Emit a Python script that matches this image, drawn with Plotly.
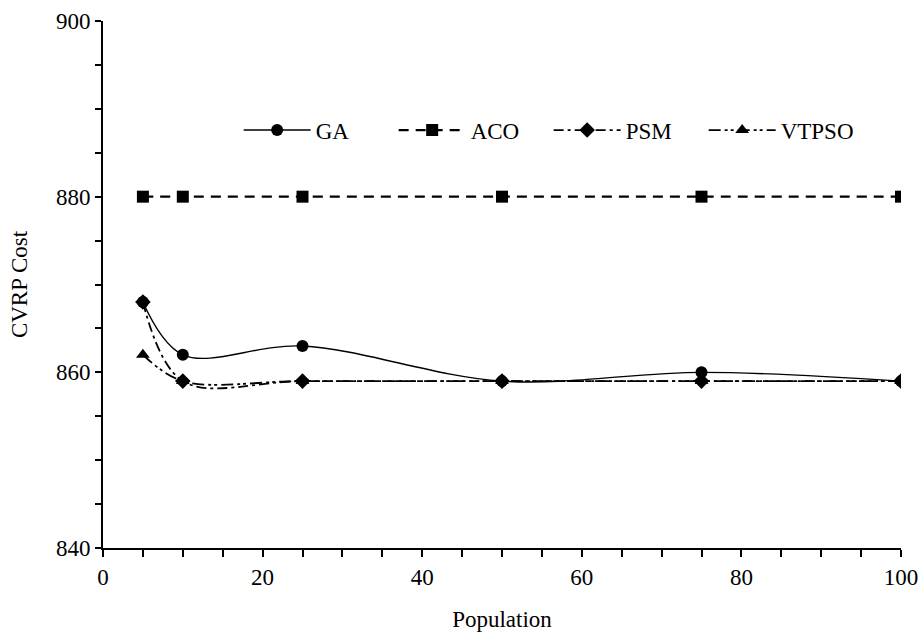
import plotly.graph_objects as go

population = [5, 10, 25, 50, 75, 100]
ga = [868, 862, 863, 859, 860, 859]
aco = [880, 880, 880, 880, 880, 880]
psm = [868, 859, 859, 859, 859, 859]
vtpso = [862, 859, 859, 859, 859, 859]

FONT = "Liberation Serif, Times New Roman, serif"
F = dict(family=FONT, size=23, color="black")

fig = go.Figure()
series = [
    ("GA", ga, "solid", "circle", 1.4),
    ("ACO", aco, "10px,7px", "square", 2.2),
    ("PSM", psm, "10px,4px,3px,4px", "diamond", 1.8),
    ("VTPSO", vtpso, "12px,4px,3px,3px,3px,4px", "triangle-up", 1.8),
]
for name, ys, dash, sym, w in series:
    fig.add_trace(go.Scatter(
        x=population, y=ys, name=name, mode="lines+markers",
        line=dict(color="black", width=w, dash=dash, shape="spline", smoothing=1.0),
        marker=dict(symbol=sym, size=12, color="black"),
    ))

fig.update_layout(
    template="none",
    width=919, height=639,
    margin=dict(l=103, r=18, t=21, b=91),
    paper_bgcolor="white", plot_bgcolor="white",
    font=F,
    showlegend=True,
    legend=dict(orientation="h", x=0.17, y=0.793, xanchor="left", yanchor="middle",
                entrywidth=73, itemwidth=67, font=F,
                bgcolor="rgba(0,0,0,0)", borderwidth=0),
    xaxis=dict(range=[0, 100], tickvals=[0, 20, 40, 60, 80, 100], showgrid=False, zeroline=False,
               showline=True, linecolor="black", linewidth=2, ticks="outside", ticklen=7,
               tickwidth=1.5, tickcolor="black", tickfont=F,
               minor=dict(tickvals=list(range(5, 100, 5)), ticks="outside", ticklen=7, tickwidth=1.5,
                          tickcolor="black", showgrid=False),
               title=dict(text="Population", standoff=22, font=F)),
    yaxis=dict(range=[840, 900], tickvals=[840, 860, 880, 900], showgrid=False, zeroline=False,
               showline=True, linecolor="black", linewidth=2, ticks="outside", ticklen=6,
               tickwidth=1.5, tickcolor="black", tickfont=F,
               minor=dict(tickvals=list(range(845, 900, 5)), ticks="outside", ticklen=6, tickwidth=1.5,
                          tickcolor="black", showgrid=False),
               title=dict(text="CVRP Cost", standoff=22, font=F)),
)

fig.write_html("out.html", config={"displayModeBar": False},
               post_script="document.body.style.margin='0';document.body.style.padding='0';")
